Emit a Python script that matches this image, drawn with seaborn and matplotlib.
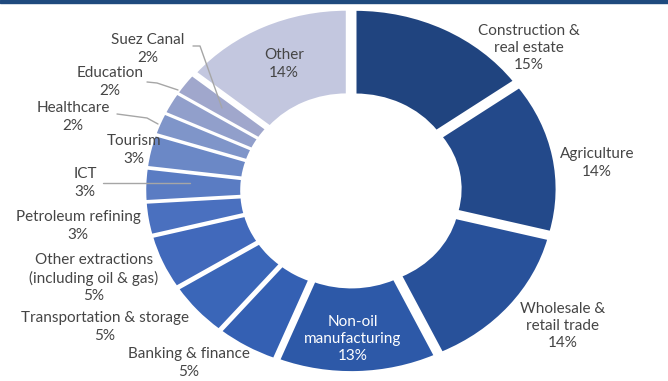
import matplotlib
matplotlib.use("Agg")
import matplotlib.pyplot as plt
from matplotlib.patches import Rectangle
from matplotlib.lines import Line2D
import seaborn as sns

# Sector shares of GDP (%), clockwise from 12 o'clock
sectors = [
    "Construction &\nreal estate", "Agriculture", "Wholesale &\nretail trade",
    "Non-oil\nmanufacturing", "Banking & finance", "Transportation & storage",
    "Other extractions\n(including oil & gas)", "Petroleum refining", "ICT",
    "Tourism", "Healthcare", "Education", "Suez Canal", "Other",
]
shares = [15, 14, 14, 13, 5, 5, 5, 3, 3, 3, 2, 2, 2, 14]

colors = [
    "#20447f", "#23498a", "#28519a", "#2d59a8", "#3460b3", "#3a66b8",
    "#4169bb", "#4a70bf", "#5a7cc3", "#6b88c6", "#7f95c9", "#919fcb",
    "#a0a7cc", "#c3c7df",
]

W, H = 668, 381
# label block centres in figure pixels (from top-left)
label_px = [
    (529, 48), (597, 163), (563, 326), (353, 339), (189, 363), (105, 327),
    (94, 278), (78, 226), (85, 183), (134, 150), (73, 117), (110, 82),
    (148, 49), (284, 64),
]
label_colors = ["#454545"] * 14
label_colors[3] = "white"

# leader lines (figure pixels)
leaders = [
    [(193, 46), (200, 46), (222, 108)],
    [(147, 82), (157, 83), (178, 90)],
    [(117, 114), (147, 118), (158, 124)],
    [(103, 183), (190, 183)],
]

sns.set_theme(style="white")
plt.rcParams["font.family"] = ["Lato", "DejaVu Sans"]

fig = plt.figure(figsize=(W / 100, H / 100), dpi=100)
ax = fig.add_axes([0, 0, 1, 1])

ax.pie(
    shares,
    colors=colors,
    startangle=90,
    counterclock=False,
    explode=[0.05] * len(shares),
    wedgeprops=dict(width=0.49, edgecolor="white", linewidth=1.5),
)
ax.set_aspect("auto")
cx, cy, rx, ry = 351, 190.5, 196, 173
ax.set_xlim(-cx / rx, (W - cx) / rx)
ax.set_ylim(-(H - cy) / ry, cy / ry)
ax.axis("off")

for name, val, (px, py), c in zip(sectors, shares, label_px, label_colors):
    fig.text(px / W, 1 - py / H, f"{name}\n{val}%", ha="center", va="center",
             fontsize=11, color=c, linespacing=1.3)

for pts in leaders:
    xs = [p[0] / W for p in pts]
    ys = [1 - p[1] / H for p in pts]
    fig.lines.append(Line2D(xs, ys, transform=fig.transFigure,
                            color="#a6a6a6", linewidth=1.0))

fig.patches.append(Rectangle((0, 1 - 3 / H), 1, 3 / H, transform=fig.transFigure,
                             color="#1f4a7e", zorder=5))

fig.savefig("out.png", dpi=100)
